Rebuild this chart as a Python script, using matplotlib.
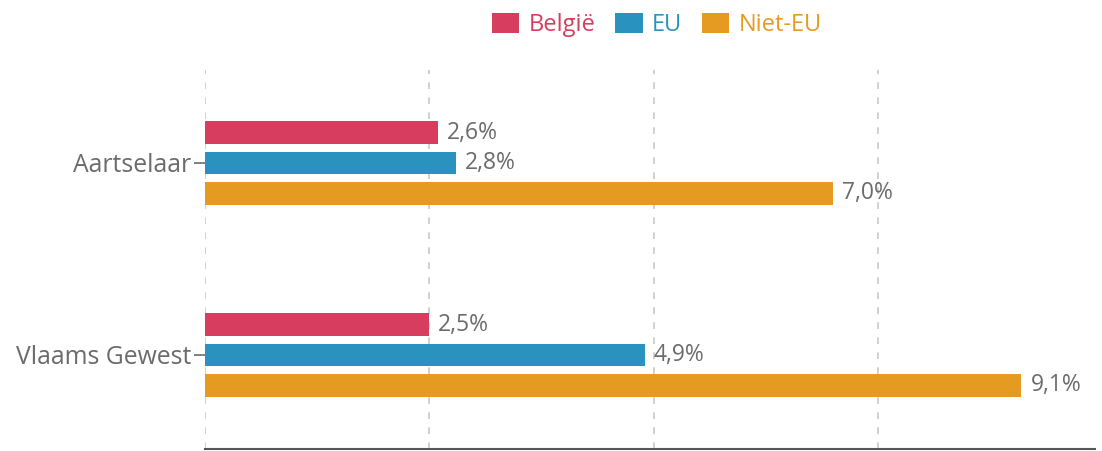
import matplotlib.pyplot as plt
import numpy as np

regions = ["Aartselaar", "Vlaams Gewest"]
series = ["België", "EU", "Niet-EU"]
belgie = [2.6, 2.5]
eu = [2.8, 4.9]
niet_eu = [7.0, 9.1]
colors = ["#d63d5e", "#2a92bf", "#e59a22"]

plt.rcParams["font.family"] = ["Open Sans", "DejaVu Sans"]
grey = "#6b6b6b"

fig = plt.figure(figsize=(11.02, 4.51), dpi=100)
ax = fig.add_axes([205 / 1102, 2 / 451, 890 / 1102, 379 / 451])

y = np.arange(len(regions))
offsets = [-0.158, 0.0, 0.158]
for vals, off, col, name in zip([belgie, eu, niet_eu], offsets, colors, series):
    bars = ax.barh(y + off, vals, height=0.118, color=col, label=name, zorder=3)
    for b, v in zip(bars, vals):
        ax.text(b.get_width() + 0.1, b.get_y() + b.get_height() / 2,
                f"{v:.1f}%".replace(".", ","), va="center", ha="left",
                fontsize=16.5, color=grey)

ax.set_xlim(0, 9.92)
ax.set_ylim(1.49, -0.484)
ax.set_xticks([0, 2.5, 5, 7.5])
ax.tick_params(axis="x", length=0, labelbottom=False)
ax.set_yticks(y)
ax.set_yticklabels(regions, fontsize=17.8, color=grey)
ax.tick_params(axis="y", length=8, width=1.2, color=grey, pad=2)
ax.grid(axis="x", linestyle=(0, (4, 5)), color="#c8c8c8", linewidth=1.2, zorder=0)
for s in ["top", "right", "left"]:
    ax.spines[s].set_visible(False)
ax.spines["bottom"].set_color("#555555")
ax.spines["bottom"].set_linewidth(1.5)

leg = fig.legend(loc="center", bbox_to_anchor=(657 / 1102, 1 - 25 / 451), ncol=3,
                 frameon=False, fontsize=17, handlelength=1.15, handleheight=0.95,
                 columnspacing=0.85, handletextpad=0.4)
for t, col in zip(leg.get_texts(), colors):
    t.set_color(col)

fig.savefig("out.png", dpi=100)
